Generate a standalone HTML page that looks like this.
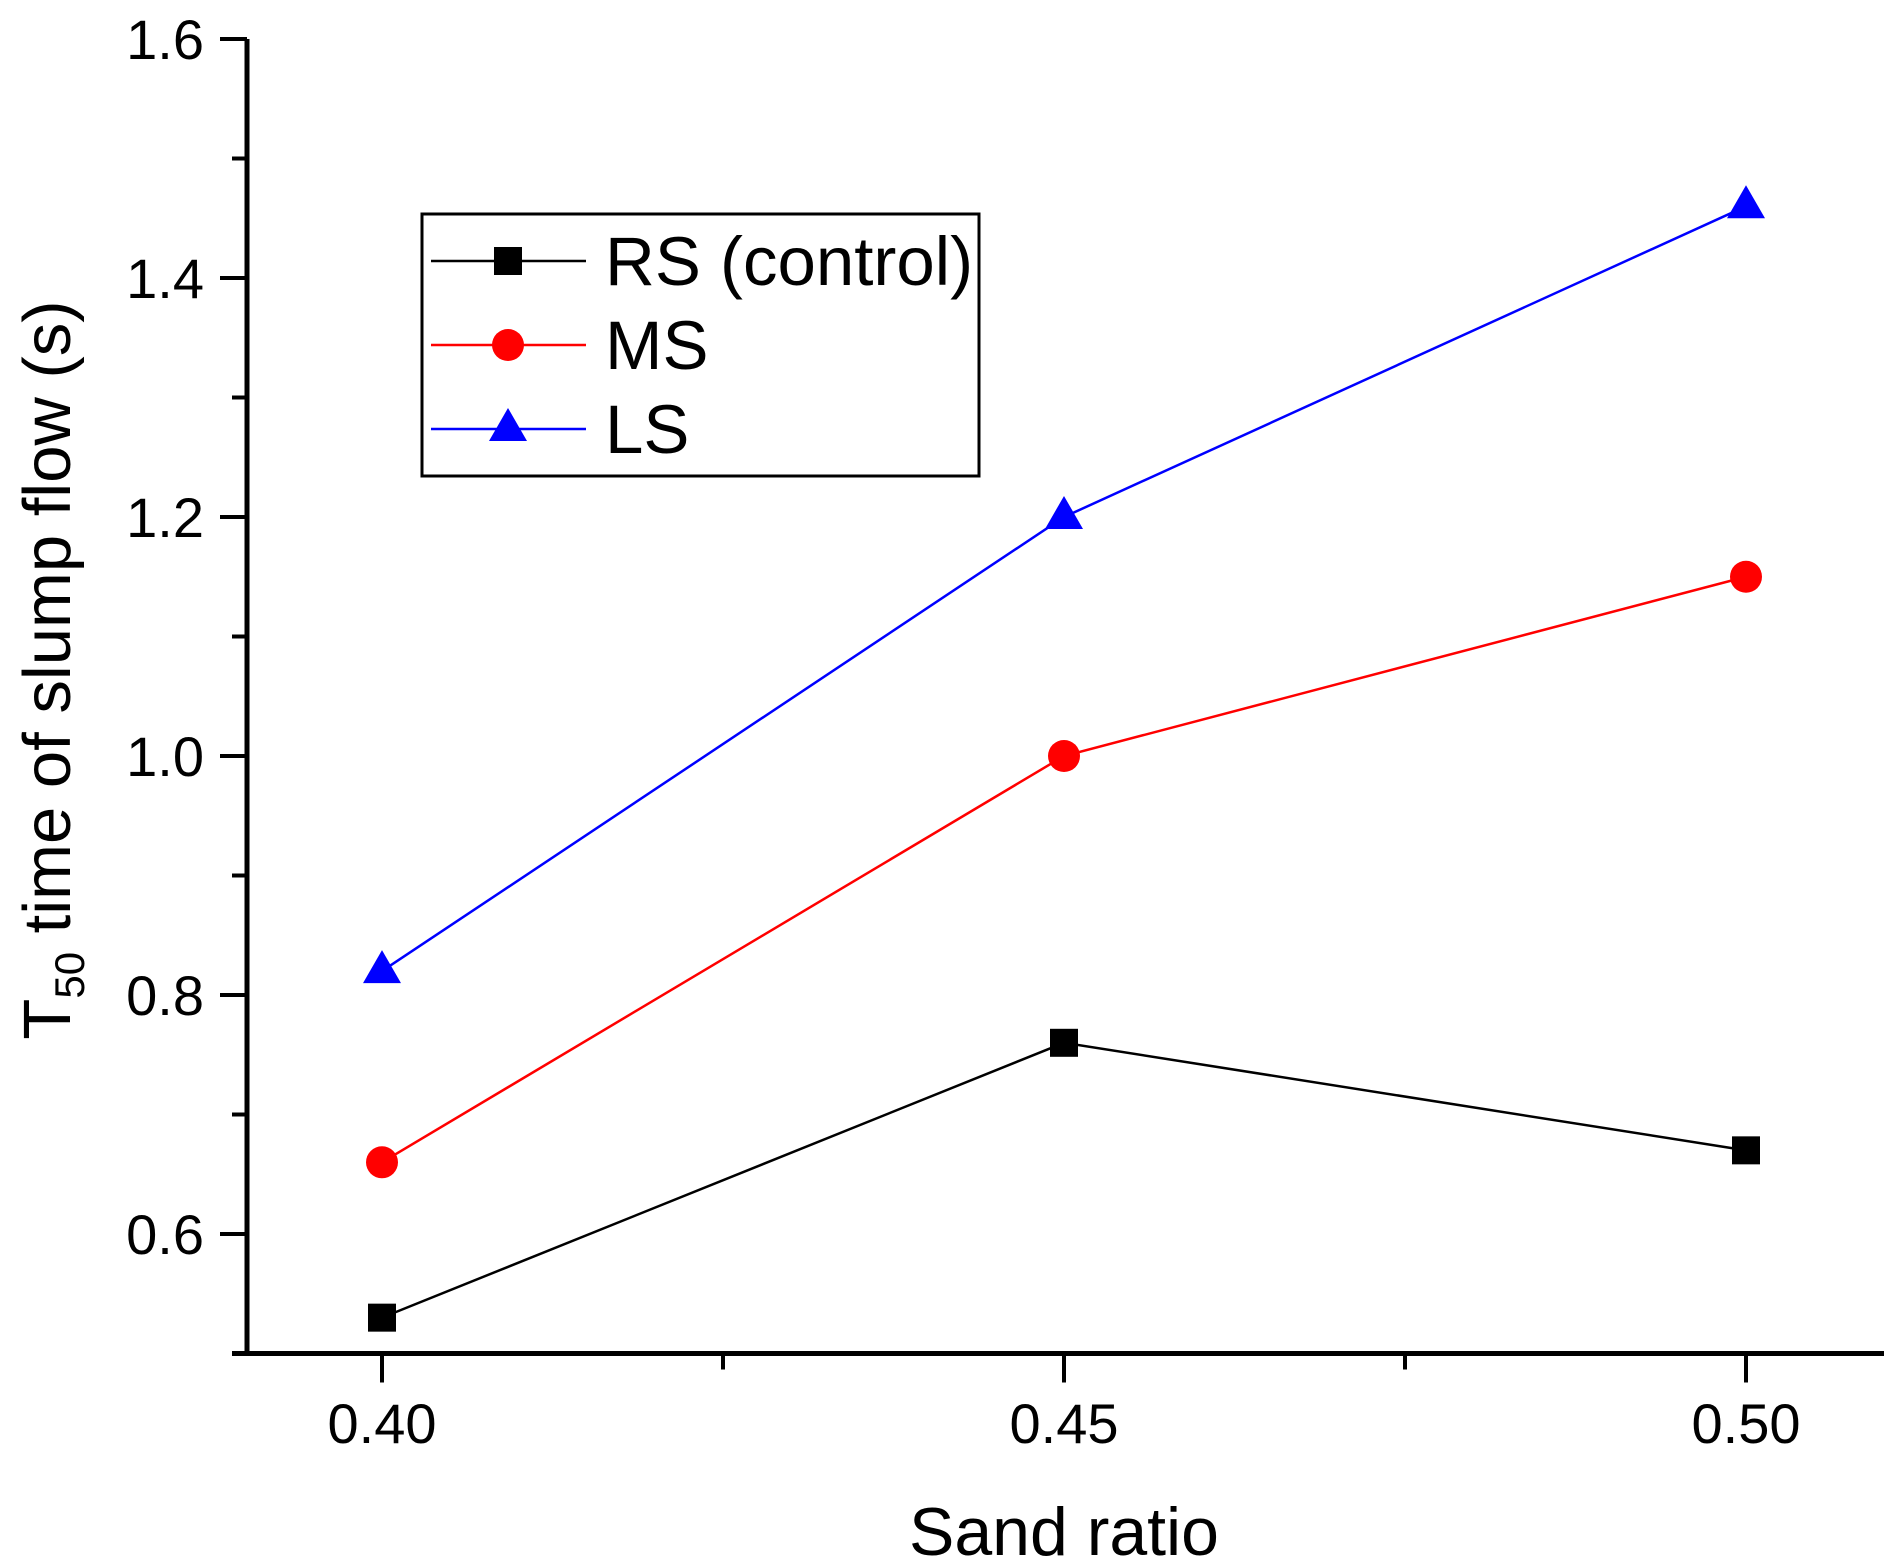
<!DOCTYPE html>
<html><head><meta charset="utf-8"><style>
html,body{margin:0;padding:0;background:#fff;}
svg{display:block;font-family:"Liberation Sans",Arial,sans-serif;}
</style></head><body>
<svg id="chart" width="1896" height="1558" viewBox="0 0 1896 1558" xmlns="http://www.w3.org/2000/svg">
<g id="axes"></g>
<g id="series"></g>
<g id="legend">
<rect x="422" y="214" width="557" height="262" fill="#fff" stroke="#000" stroke-width="3"/>
<g>
<line x1="431" y1="261" x2="586" y2="261" stroke="#000" stroke-width="2.5"/>
<rect x="494" y="247" width="28" height="28" fill="#000"/>
<text x="605" y="285" font-size="69">RS (control)</text></g>
<g>
<line x1="431" y1="345" x2="586" y2="345" stroke="#f00" stroke-width="2.5"/>
<circle cx="508" cy="345" r="16" fill="#f00"/>
<text x="605" y="369" font-size="69">MS</text></g>
<g>
<line x1="431" y1="429" x2="586" y2="429" stroke="#00f" stroke-width="2.5"/>
<polygon points="508,408 489,441 527,441" fill="#00f"/>
<text x="605" y="453" font-size="69">LS</text></g>
</g>
<text x="1064" y="1555" font-size="68" text-anchor="middle">Sand ratio</text>
<text transform="translate(70,670) rotate(-90)" font-size="67" text-anchor="middle">T<tspan font-size="42" dy="14">50</tspan><tspan dy="-14"> time of slump flow (s)</tspan></text>
</svg>
<script>
const categories = [0.40, 0.45, 0.50];
const rsValues = [0.53, 0.76, 0.67];
const msValues = [0.66, 1.00, 1.15];
const lsValues = [0.82, 1.20, 1.46];
const yTicks = ["0.6","0.8","1.0","1.2","1.4","1.6"];
const xTicks = ["0.40","0.45","0.50"];

const NS = "http://www.w3.org/2000/svg";
function xs(v){ return 382 + (v - 0.40) / 0.05 * 682; }
function ys(v){ return 39 + (1.6 - v) / 0.2 * 239; }
function mk(tag, attrs, parent){
  const e = document.createElementNS(NS, tag);
  for (const k in attrs) e.setAttribute(k, attrs[k]);
  parent.appendChild(e); return e;
}
const axes = document.getElementById('axes');
let el = mk('line', {x1:247, y1:ys(1.6), x2:247, y2:ys(0.5)+2.5, stroke:'#000','stroke-width':5}, axes);


el = mk('line', {x1:232, y1:ys(0.5), x2:1884, y2:ys(0.5), stroke:'#000','stroke-width':5}, axes);


for (let v = 0.5; v <= 1.6001; v += 0.1) {
  const major = Math.abs(Math.round(v*10) % 2) === 0;
  el = mk('line', {x1: major ? 220 : 232, y1: ys(v), x2: 247, y2: ys(v), stroke:'#000','stroke-width':4}, axes);
  
  
}
yTicks.forEach(t => {
  const e = mk('text', {x:204, y: ys(parseFloat(t)) + 20, 'font-size':56, 'text-anchor':'end'}, axes);
  e.textContent = t;
  
  
});
for (let v = 0.40; v <= 0.5001; v += 0.025) {
  const major = Math.abs(Math.round(v*1000) % 50) === 0;
  el = mk('line', {x1: xs(v), y1: ys(0.5), x2: xs(v), y2: ys(0.5) + (major ? 29 : 16), stroke:'#000','stroke-width':4}, axes);
  
  
}
xTicks.forEach(t => {
  const e = mk('text', {x: xs(parseFloat(t)), y: 1443, 'font-size':56, 'text-anchor':'middle'}, axes);
  e.textContent = t;
  
  
});

const series = document.getElementById('series');
function drawSeries(vals, color, shape, name){
  const g = mk('g', {}, series);
  
  
  const pts = vals.map((v,i) => xs(categories[i]) + ',' + ys(v)).join(' ');
  const pl = mk('polyline', {points: pts, fill:'none', stroke: color, 'stroke-width': 2.5}, g);
  
  
  vals.forEach((v,i) => {
    const cx = xs(categories[i]), cy = ys(v);
    let m;
    if (shape === 'square') m = mk('rect', {x: cx-14, y: cy-14, width: 28, height: 28, fill: color}, g);
    else if (shape === 'circle') m = mk('circle', {cx: cx, cy: cy, r: 16, fill: color}, g);
    else m = mk('polygon', {points: `${cx},${cy-21} ${cx-19},${cy+12} ${cx+19},${cy+12}`, fill: color}, g);
    
    
  });
}
drawSeries(rsValues, '#000', 'square', 'rs-series');
drawSeries(msValues, '#f00', 'circle', 'ms-series');
drawSeries(lsValues, '#00f', 'triangle', 'ls-series');
</script>
</body></html>
